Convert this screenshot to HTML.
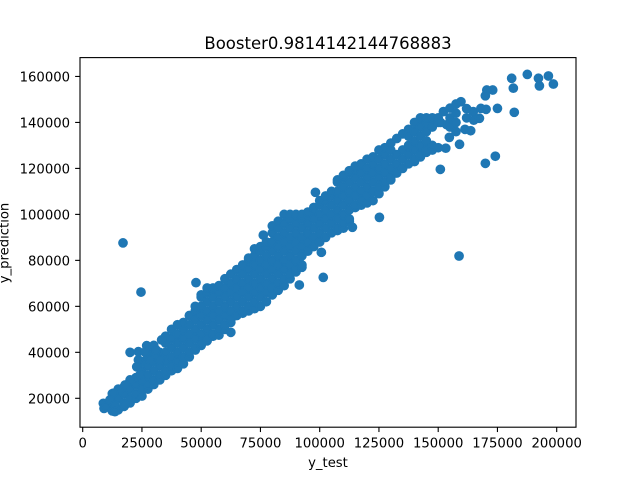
<!DOCTYPE html>
<html>
<head>
<meta charset="utf-8">
<title>Booster scatter</title>
<style>
html,body{margin:0;padding:0;background:#fff;width:640px;height:480px;overflow:hidden}
svg{display:block}
text{font-family:"DejaVu Sans","Liberation Sans",sans-serif;fill:#000}
</style>
</head>
<body>
<svg id="chart" xmlns="http://www.w3.org/2000/svg" width="640" height="480" viewBox="0 0 640 480">
<rect x="0" y="0" width="640" height="480" fill="#fff"/>
<g id="points"></g>
<g id="x-ticks"></g>
<g id="y-ticks"></g>
<rect x="80" y="57.6" width="496" height="369.6" fill="none" stroke="#000" stroke-width="1.11"/>
<text x="328" y="49" text-anchor="middle" style="font-size:16.5px">Booster0.9814142144768883</text>
<text x="328" y="467" text-anchor="middle" style="font-size:13.2px">y_test</text>
<text transform="translate(8.3,243) rotate(-90)" text-anchor="middle" style="font-size:13.2px">y_prediction</text>
</svg>
<script>
const xTickValues = [0, 25000, 50000, 75000, 100000, 125000, 150000, 175000, 200000];
const yTickValues = [20000, 40000, 60000, 80000, 100000, 120000, 140000, 160000];
const yTest = [
8700,9000,10000,
12500,12500,12500,
15000,15000,15000,
17500,17500,17500,17500,
20000,20000,20000,20000,20000,
22500,22500,22500,22500,
25000,25000,25000,25000,25000,24600,
27500,27500,27500,27500,27500,27500,
30000,30000,30000,30000,30000,30000,
32500,32500,32500,32500,32500,
35000,35000,35000,35000,35000,35000,
37500,37500,37500,37500,37500,37500,
40000,40000,40000,40000,40000,40000,
42500,42500,42500,42500,42500,42500,
45000,45000,45000,45000,45000,45000,47800,
47500,47500,47500,47500,47500,47500,47500,
50000,50000,50000,50000,50000,50000,50000,50000,
52500,52500,52500,52500,52500,52500,52500,52500,
55000,55000,55000,55000,55000,55000,55000,
57500,57500,57500,57500,57500,57500,57500,
60000,60000,60000,60000,60000,60000,60000,
62500,62500,62500,62500,62500,62500,62500,62500,
65000,65000,65000,65000,65000,65000,
67500,67500,67500,67500,67500,67500,67500,
70000,70000,70000,70000,70000,70000,70000,70000,
72500,72500,72500,72500,72500,72500,72500,72500,
75000,75000,75000,75000,75000,75000,75000,75000,
77500,77500,77500,77500,77500,77500,77500,77500,76200,
80000,80000,80000,80000,80000,80000,80000,80000,80000,
82500,82500,82500,82500,82500,82500,82500,82500,82500,
85000,85000,85000,85000,85000,85000,85000,85000,85000,
87500,87500,87500,87500,87500,87500,87500,87500,87500,
90000,90000,90000,90000,90000,90000,90000,90000,
92500,92500,92500,92500,92500,92500,92500,92500,91400,
95000,95000,95000,95000,95000,95000,
97500,97500,97500,97500,97500,97500,98200,
100000,100000,100000,100000,100000,100000,100700,101500,
102500,102500,102500,102500,102500,102500,
105000,105000,105000,105000,105000,105000,
107500,107500,107500,107500,107500,107500,107500,107500,
110000,110000,110000,110000,110000,110000,110000,110000,
112500,112500,112500,112500,112500,112500,112500,112500,113800,
115000,115000,115000,115000,115000,115000,115000,
117500,117500,117500,117500,117500,117500,
120000,120000,120000,120000,120000,120000,
122500,122500,122500,122500,122500,122500,
125000,125000,125000,125000,125000,125000,125200,
127500,127500,127500,127500,127500,127500,
130000,130000,130000,130000,130000,130000,
132500,132500,132500,132500,
135000,135000,135000,135000,
137500,137500,137500,137500,137500,
140000,140000,140000,140000,140000,140000,
142500,142500,142500,142500,142500,142500,
145000,145000,145000,145000,145000,145000,
147500,147500,147500,147500,
150000,150000,150000,150900,
153200,152200,154700,153600,155000,155000,155000,
157500,157500,157500,157500,
159600,159000,158800,
161300,162000,162000,
163700,164800,165000,
167400,168000,170200,169900,174100,175000,182100,181700,181000,
187600,192300,196500,198600,192700,173000,170500,169900,
23500,23500,22800,27000,29800,26300,30500,28400,32600,24200,20000,
15700,12900,17900,11500,13600,13600,17800,33300,31000,151000,
17000
];
const yPrediction = [
17800,15600,16500,
14500,18000,22000,
15000,20000,24000,
16500,18000,22000,25000,
18000,20000,24000,27000,40000,
20000,22000,26000,29000,
21000,24000,28000,32000,36000,66200,
24000,26000,30000,34000,38000,42000,
26000,28000,32000,36000,40000,43000,
28000,30000,34000,38000,40000,
30000,32000,36000,40000,44000,47000,
32000,34000,38000,42000,46000,50000,
33000,36000,40000,44000,48000,52000,
35000,38000,42000,46000,50000,53000,
38000,40000,44000,48000,52000,56000,70300,
41000,42000,46000,50000,54000,58000,60000,
43000,44000,48000,52000,56000,60000,64000,65000,
45000,46000,50000,54000,58000,62000,66000,68000,
47000,48000,52000,56000,60000,64000,68000,
47500,50000,54000,58000,62000,66000,69000,
50000,52000,56000,60000,64000,68000,72000,
48700,53000,54000,58000,62000,66000,70000,74000,
56000,60000,64000,68000,72000,76000,
57000,58000,62000,66000,70000,74000,78000,
58000,60000,64000,68000,72000,76000,80000,81000,
59000,62000,66000,70000,74000,78000,82000,85000,
60000,64000,68000,72000,76000,80000,84000,86000,
62000,66000,70000,74000,78000,82000,86000,88000,91000,
65000,68000,72000,76000,80000,84000,88000,92000,95000,
67000,70000,74000,78000,82000,86000,90000,94000,97000,
69000,72000,76000,80000,84000,88000,92000,96000,100000,
72000,74000,78000,82000,86000,90000,94000,98000,100000,
75000,76000,80000,84000,88000,92000,96000,100000,
77000,78000,82000,86000,90000,94000,98000,100000,69300,
84000,88000,92000,96000,100000,101000,
86000,90000,94000,98000,102000,103000,109600,
88000,92000,96000,100000,104000,106000,83500,72600,
90000,94000,98000,102000,106000,108000,
92000,96000,100000,104000,108000,110000,
93000,94000,98000,102000,106000,110000,114000,115000,
94000,96000,100000,104000,108000,112000,116000,117000,
97000,98000,102000,106000,110000,114000,118000,119000,94400,
103000,104000,108000,112000,116000,120000,121000,
104000,106000,110000,114000,118000,122000,
105000,108000,112000,116000,120000,124000,
106000,110000,114000,118000,122000,125000,
109000,112000,116000,120000,124000,128000,98700,
112000,114000,118000,122000,126000,129000,
115000,116000,120000,124000,128000,131000,
118000,122000,126000,133000,
120000,124000,128000,135000,
122000,126000,130000,134000,137000,
123000,124000,128000,132000,136000,140000,
125000,126000,130000,134000,138000,142000,
127000,128000,132000,136000,140000,142000,
128000,130000,138000,142000,
129000,140000,142000,119600,
128800,144700,133500,139000,146200,142000,138000,
136000,140000,144000,148000,
149000,130500,81900,
137000,146000,142000,
136400,144700,141000,
141800,146100,145700,122200,125300,146100,144400,154900,159200,
160900,159200,160200,156700,155900,154100,154100,151600,
40300,36700,33700,42900,42400,40100,38900,36700,36700,30200,28000,
23700,22200,25800,19300,17000,14200,17100,45400,41000,140000,
87600
];
const xDomain = [-1139, 208143];
const yDomain = [7430, 168200];
const plotLeft = 80, plotRight = 576, plotTop = 57.6, plotBottom = 427.2;
const NS = 'http://www.w3.org/2000/svg';
function xScale(v) {
  return plotLeft + (v - xDomain[0]) / (xDomain[1] - xDomain[0]) * (plotRight - plotLeft);
}
function yScale(v) {
  return plotBottom - (v - yDomain[0]) / (yDomain[1] - yDomain[0]) * (plotBottom - plotTop);
}
const pointsGroup = document.getElementById('points');
const count = Math.min(yTest.length, yPrediction.length);
for (let i = 0; i < count; i++) {
  const dot = document.createElementNS(NS, 'circle');
  
  
  dot.setAttribute('cx', xScale(yTest[i]));
  dot.setAttribute('cy', yScale(yPrediction[i]));
  dot.setAttribute('r', 4.17);
  dot.setAttribute('fill', '#1f77b4');
  dot.setAttribute('stroke', '#1f77b4');
  dot.setAttribute('stroke-width', 1.39);
  pointsGroup.appendChild(dot);
}
const xTickGroup = document.getElementById('x-ticks');
xTickValues.forEach(function (value) {
  const px = xScale(value);
  const mark = document.createElementNS(NS, 'line');
  
  
  mark.setAttribute('x1', px);
  mark.setAttribute('x2', px);
  mark.setAttribute('y1', plotBottom);
  mark.setAttribute('y2', plotBottom + 4.86);
  mark.setAttribute('stroke', '#000');
  mark.setAttribute('stroke-width', 1.11);
  xTickGroup.appendChild(mark);
  const label = document.createElementNS(NS, 'text');
  
  
  label.setAttribute('x', px);
  label.setAttribute('y', 447.5);
  label.setAttribute('text-anchor', 'middle');
  label.setAttribute('style', 'font-size:13.2px');
  label.textContent = String(value);
  xTickGroup.appendChild(label);
});
const yTickGroup = document.getElementById('y-ticks');
yTickValues.forEach(function (value) {
  const py = yScale(value);
  const mark = document.createElementNS(NS, 'line');
  
  
  mark.setAttribute('x1', plotLeft);
  mark.setAttribute('x2', plotLeft - 4.86);
  mark.setAttribute('y1', py);
  mark.setAttribute('y2', py);
  mark.setAttribute('stroke', '#000');
  mark.setAttribute('stroke-width', 1.11);
  yTickGroup.appendChild(mark);
  const label = document.createElementNS(NS, 'text');
  
  
  label.setAttribute('x', 70);
  label.setAttribute('y', py + 5);
  label.setAttribute('text-anchor', 'end');
  label.setAttribute('style', 'font-size:13.2px');
  label.textContent = String(value);
  yTickGroup.appendChild(label);
});
</script>
</body>
</html>
